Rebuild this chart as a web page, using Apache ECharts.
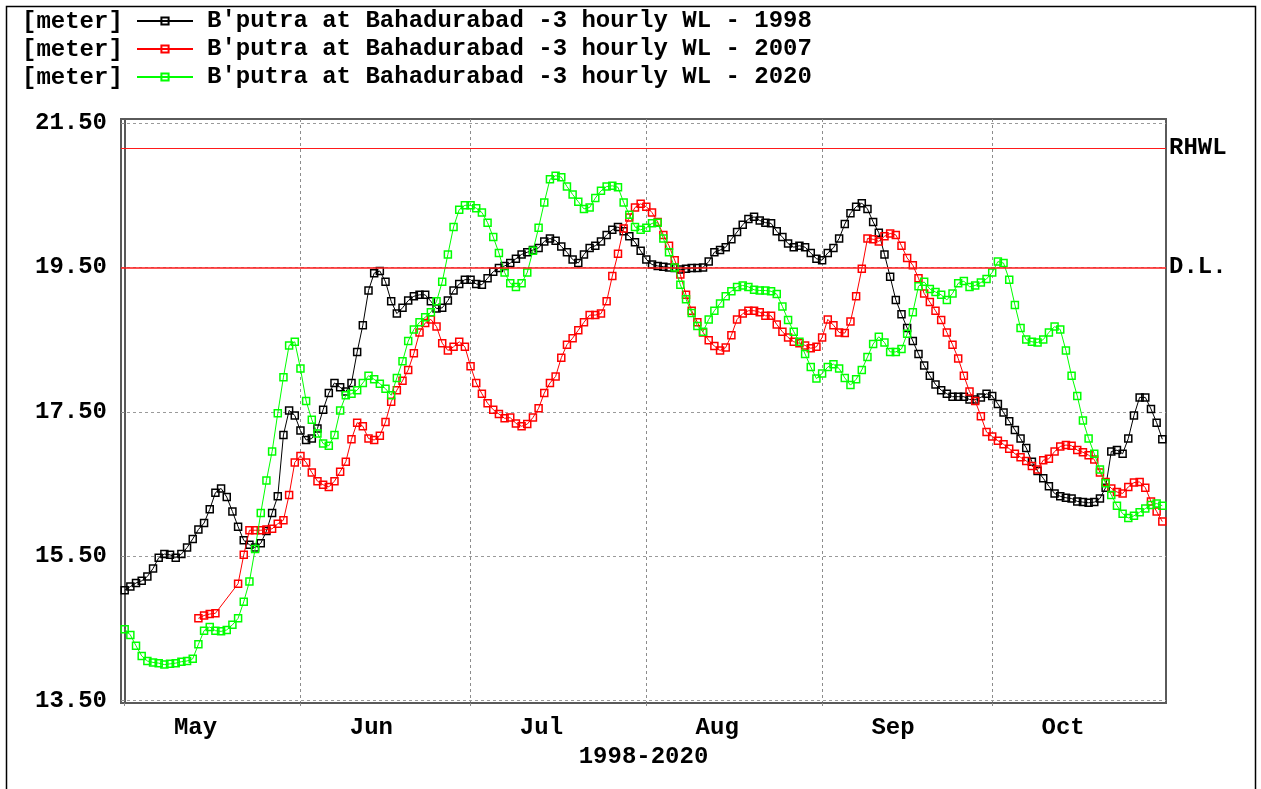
<!DOCTYPE html>
<html>
<head>
<meta charset="utf-8">
<title>Bahadurabad water level</title>
<script src="https://cdn.jsdelivr.net/npm/echarts@6/dist/echarts.min.js"></script>
<style>
  html, body { margin: 0; padding: 0; background: #fff; }
  #chart { width: 1261px; height: 789px; }
</style>
</head>
<body>
<div id="chart"></div>
<script>
// Days counted from 1 May; month boundaries and label positions on the x axis
const monthStartDays = [0, 31, 61, 92, 123, 153];
const monthNames = ['May', 'Jun', 'Jul', 'Aug', 'Sep', 'Oct'];
const monthLabelDays = [12.5, 43.5, 73.5, 104.5, 135.5, 165.5];
const yTickValues = [13.5, 15.5, 17.5, 19.5, 21.5];

const seriesNames = [
  "B'putra at Bahadurabad -3 hourly WL - 1998",
  "B'putra at Bahadurabad -3 hourly WL - 2007",
  "B'putra at Bahadurabad -3 hourly WL - 2020"
];
const unitLabel = '[meter]';
const axisTitle = '1998-2020';

// Reference levels (m)
const rhwlLevel = 21.15;
const dangerLevel = 19.5;

// Daily water level (m), first value on day wl1998Start
const wl1998Start = 0;
const wl1998 = [
  15.03, 15.08, 15.13, 15.16, 15.22, 15.33, 15.48, 15.53, 15.52, 15.48,
  15.53, 15.62, 15.74, 15.87, 15.96, 16.15, 16.38, 16.44, 16.32, 16.12,
  15.91, 15.72, 15.66, 15.62, 15.68, 15.85, 16.10, 16.33, 17.18, 17.52,
  17.45, 17.24, 17.11, 17.13, 17.27, 17.53, 17.76, 17.90, 17.84, 17.78,
  17.90, 18.33, 18.70, 19.18, 19.42, 19.45, 19.30, 19.03, 18.86, 18.94,
  19.04, 19.10, 19.12, 19.12, 19.03, 18.93, 18.94, 19.04, 19.18, 19.27,
  19.33, 19.33, 19.27, 19.26, 19.35, 19.44, 19.49, 19.52, 19.56, 19.62,
  19.68, 19.71, 19.74, 19.77, 19.86, 19.90, 19.87, 19.79, 19.71, 19.61,
  19.56, 19.68, 19.77, 19.80, 19.86, 19.95, 20.02, 20.06, 20.00, 19.93,
  19.85, 19.73, 19.61, 19.54, 19.52, 19.51, 19.50, 19.49, 19.47, 19.48,
  19.49, 19.49, 19.50, 19.58, 19.71, 19.74, 19.78, 19.89, 19.99, 20.09,
  20.17, 20.20, 20.15, 20.12, 20.11, 20.00, 19.92, 19.83, 19.78, 19.80,
  19.78, 19.70, 19.62, 19.60, 19.70, 19.77, 19.90, 20.10, 20.25, 20.34,
  20.39, 20.31, 20.13, 19.98, 19.68, 19.37, 19.05, 18.85, 18.66, 18.48,
  18.30, 18.14, 18.00, 17.88, 17.80, 17.75, 17.71, 17.71, 17.71, 17.67,
  17.67, 17.70, 17.75, 17.72, 17.61, 17.49, 17.37, 17.25, 17.13, 17.00,
  16.81, 16.68, 16.58, 16.47, 16.37, 16.33, 16.31, 16.30, 16.26, 16.25,
  16.24, 16.25, 16.30, 16.45, 16.95, 16.97, 16.92, 17.13, 17.45, 17.70,
  17.70, 17.54, 17.35, 17.12
];

const wl2007Start = 13;
const wl2007 = [
  14.64, 14.68, 14.70, 14.71, null, null, null,
  15.12, 15.52, 15.86, 15.86, 15.86, 15.87, 15.88, 15.95, 16.00, 16.35,
  16.80, 16.89, 16.80, 16.66, 16.54, 16.49, 16.46, 16.54, 16.67, 16.81,
  17.12, 17.35, 17.30, 17.13, 17.11, 17.17, 17.36, 17.64, 17.80, 17.93,
  18.08, 18.31, 18.60, 18.73, 18.78, 18.68, 18.45, 18.35, 18.40, 18.47,
  18.40, 18.13, 17.90, 17.75, 17.62, 17.53, 17.47, 17.41, 17.42, 17.34,
  17.30, 17.33, 17.42, 17.55, 17.76, 17.90, 17.99, 18.25, 18.43, 18.52,
  18.63, 18.74, 18.84, 18.84, 18.86, 19.03, 19.38, 19.69, 20.04, 20.19,
  20.33, 20.38, 20.34, 20.26, 20.13, 19.95, 19.80, 19.60, 19.40, 19.12,
  18.90, 18.74, 18.60, 18.49, 18.41, 18.35, 18.39, 18.56, 18.78, 18.86,
  18.90, 18.90, 18.88, 18.83, 18.83, 18.71, 18.61, 18.53, 18.47, 18.45,
  18.42, 18.38, 18.40, 18.53, 18.78, 18.70, 18.60, 18.59, 18.75, 19.10,
  19.48, 19.90, 19.89, 19.86, 19.93, 19.97, 19.95, 19.80, 19.63, 19.53,
  19.35, 19.14, 19.02, 18.90, 18.77, 18.60, 18.43, 18.24, 18.00, 17.78,
  17.65, 17.44, 17.22, 17.16, 17.10, 17.05, 16.99, 16.92, 16.87, 16.82,
  16.75, 16.70, 16.83, 16.85, 16.95, 17.02, 17.04, 17.03, 16.97, 16.94,
  16.90, 16.84, 16.66, 16.53, 16.44, 16.39, 16.37, 16.46, 16.52, 16.53,
  16.45, 16.26, 16.12, 15.98
];

const wl2020Start = 0;
const wl2020 = [
  14.49, 14.41, 14.26, 14.12, 14.05, 14.03, 14.02, 14.00, 14.01, 14.02,
  14.04, 14.05, 14.08, 14.28, 14.47, 14.52, 14.47, 14.46, 14.48, 14.55,
  14.64, 14.87, 15.15, 15.60, 16.10, 16.55, 16.95, 17.48, 17.98, 18.42,
  18.47, 18.10, 17.65, 17.39, 17.20, 17.06, 17.03, 17.18, 17.52, 17.73,
  17.75, 17.80, 17.90, 18.00, 17.95, 17.89, 17.82, 17.73, 17.97, 18.20,
  18.48, 18.64, 18.74, 18.81, 18.88, 19.03, 19.30, 19.68, 20.06, 20.30,
  20.36, 20.36, 20.32, 20.26, 20.12, 19.92, 19.70, 19.43, 19.28, 19.23,
  19.28, 19.43, 19.73, 20.05, 20.40, 20.72, 20.77, 20.75, 20.62, 20.51,
  20.41, 20.31, 20.33, 20.46, 20.56, 20.62, 20.63, 20.61, 20.40, 20.23,
  20.06, 20.02, 20.05, 20.11, 20.12, 19.90, 19.71, 19.50, 19.26, 19.06,
  18.87, 18.69, 18.61, 18.78, 18.90, 19.00, 19.10, 19.17, 19.23, 19.25,
  19.23, 19.19, 19.18, 19.18, 19.17, 19.13, 18.96, 18.77, 18.61, 18.47,
  18.30, 18.12, 17.96, 18.03, 18.12, 18.16, 18.10, 17.97, 17.87, 17.95,
  18.08, 18.26, 18.44, 18.54, 18.46, 18.33, 18.33, 18.37, 18.58, 18.88,
  19.24, 19.30, 19.20, 19.16, 19.12, 19.05, 19.14, 19.28, 19.31, 19.23,
  19.25, 19.29, 19.34, 19.43, 19.58, 19.56, 19.33, 18.98, 18.66, 18.50,
  18.47, 18.46, 18.50, 18.60, 18.68, 18.64, 18.35, 18.00, 17.72, 17.38,
  17.13, 16.92, 16.70, 16.51, 16.35, 16.20, 16.09, 16.03, 16.06, 16.11,
  16.16, 16.21, 16.23, 16.20
];

const seriesColors = ['#000000', '#ff0000', '#00ff00'];
const levelLineColor = '#ff1a1a';

const FONT = '"Liberation Mono", "Courier New", monospace';
const textBase = { fontFamily: FONT, fontWeight: 'bold', fontSize: 24, color: '#000' };

function toPoints(start, values) {
  return values.map((v, i) => [start + i, v]);
}

function lineSeries(idx, start, values, extra) {
  const c = seriesColors[idx];
  return Object.assign({
    name: seriesNames[idx],
    type: 'line',
    data: toPoints(start, values),
    symbol: 'rect',
    symbolSize: 7,
    showSymbol: true,
    showAllSymbol: true,
    connectNulls: true,
    lineStyle: { color: c, width: 1 },
    itemStyle: { color: 'rgba(255,255,255,0)', borderColor: c, borderWidth: 1.5 },
    emphasis: { disabled: true },
    animation: false,
    z: 2 + idx
  }, extra || {});
}

const chart = echarts.init(document.getElementById('chart'), null, { renderer: 'canvas' });

chart.setOption({
  animation: false,
  backgroundColor: '#ffffff',
  graphic: [
    {
      type: 'rect', silent: true,
      shape: { x: 6.5, y: 6.5, width: 1249, height: 800 },
      style: { fill: 'none', stroke: '#000', lineWidth: 1.5 }
    },
    ...[20, 48, 76].map(y => ({
      type: 'text', silent: true, x: 22, y: y + 2,
      style: {
        text: unitLabel, fill: '#000',
        font: 'bold 24px ' + FONT, verticalAlign: 'middle', align: 'left'
      }
    }))
  ],
  legend: {
    orient: 'vertical',
    left: 131,
    top: 2,
    itemWidth: 56,
    itemHeight: 9,
    itemGap: 0,
    selectedMode: false,
    textStyle: Object.assign({}, textBase, { lineHeight: 28, padding: [0, 0, 0, 9] }),
    data: seriesNames
  },
  grid: {
    left: 121, right: 95, top: 119, bottom: 86,
    show: true, borderColor: '#5a5a5a', borderWidth: 2,
    backgroundColor: 'rgba(0,0,0,0)'
  },
  xAxis: {
    type: 'value',
    min: -0.65,
    max: 183.65,
    name: axisTitle,
    nameLocation: 'middle',
    nameGap: 41,
    nameTextStyle: textBase,
    axisLine: { show: true, lineStyle: { color: '#5a5a5a', width: 2 } },
    axisTick: {
      show: true, customValues: monthStartDays, length: 6,
      lineStyle: { color: '#8c8c8c', type: [3, 3] }
    },
    axisLabel: Object.assign({}, textBase, {
      customValues: monthLabelDays,
      margin: 13,
      formatter: v => {
        const i = monthLabelDays.findIndex(d => Math.abs(d - v) < 0.01);
        return i >= 0 ? monthNames[i] : '';
      }
    }),
    splitLine: { show: true, lineStyle: { color: '#8c8c8c', type: [3, 3], width: 1 } }
  },
  yAxis: {
    type: 'value',
    min: 13.468,
    max: 21.555,
    axisLine: { show: true, lineStyle: { color: '#5a5a5a', width: 2 } },
    axisTick: {
      show: true, customValues: yTickValues, length: 4,
      lineStyle: { color: '#8c8c8c', type: [3, 3] }
    },
    axisLabel: Object.assign({}, textBase, {
      customValues: yTickValues,
      margin: 14,
      formatter: v => v.toFixed(2)
    }),
    splitLine: { show: true, lineStyle: { color: '#9a9a9a', type: [3, 3], width: 1 } }
  },
  series: [
    lineSeries(0, wl1998Start, wl1998),
    lineSeries(1, wl2007Start, wl2007),
    lineSeries(2, wl2020Start, wl2020),
    {
      // RHWL and danger-level reference lines
      name: 'levels',
      type: 'line',
      data: [],
      z: 20,
      silent: true,
      markLine: {
        silent: true,
        z: 20,
        symbol: ['none', 'none'],
        animation: false,
        lineStyle: { color: levelLineColor, width: 1.2, type: 'solid', opacity: 1 },
        label: Object.assign({}, textBase, {
          show: true, position: 'end', distance: 3, formatter: '{b}'
        }),
        emphasis: { disabled: true },
        data: [
          { name: 'RHWL', yAxis: rhwlLevel },
          { name: 'D.L.', yAxis: dangerLevel, lineStyle: { width: 1.5 } }
        ]
      }
    }
  ]
});
</script>
</body>
</html>
